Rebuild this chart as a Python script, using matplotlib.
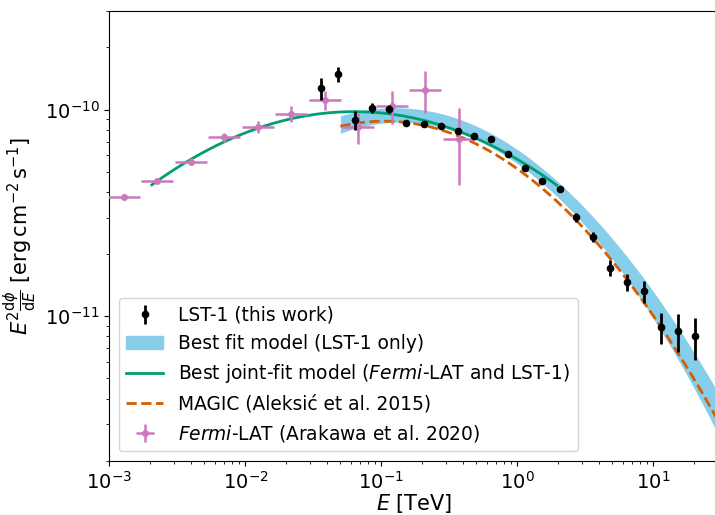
import numpy as np
import matplotlib.pyplot as plt
from matplotlib.patches import Patch
from matplotlib.lines import Line2D

TEV_TO_ERG = 1.602176634

# LST-1 flux points: energy [TeV], E^2 dN/dE [erg cm-2 s-1]
lst_energy = np.array([0.0363, 0.0484, 0.0646, 0.0861, 0.1148, 0.153, 0.2046, 0.273,
                       0.364, 0.485, 0.647, 0.863, 1.15, 1.535, 2.05, 2.73, 3.64,
                       4.85, 6.47, 8.63, 11.5, 15.3, 20.5])
lst_flux = np.array([1.268e-10, 1.48e-10, 8.94e-11, 1.02e-10, 1.008e-10, 8.6e-11,
                     8.55e-11, 8.33e-11, 7.88e-11, 7.48e-11, 7.18e-11, 6.09e-11,
                     5.23e-11, 4.51e-11, 4.12e-11, 3.01e-11, 2.42e-11, 1.72e-11,
                     1.47e-11, 1.32e-11, 8.85e-12, 8.45e-12, 8.0e-12])
lst_flux_err = np.array([1.55e-11, 1.2e-11, 9.5e-12, 6e-12, 4.5e-12, 2e-12,
                         1.5e-12, 1.5e-12, 1.5e-12, 1.5e-12, 1.5e-12, 1.3e-12,
                         1.3e-12, 1.2e-12, 1.2e-12, 1.4e-12, 1.4e-12, 1.5e-12,
                         1.4e-12, 1.65e-12, 1.5e-12, 1.75e-12, 1.85e-12])

# Fermi-LAT flux points (Arakawa et al. 2020)
fermi_energy = np.array([1.27e-3, 2.23e-3, 3.95e-3, 7.0e-3, 0.0124, 0.0218, 0.0384,
                         0.0679, 0.119, 0.211, 0.376])
fermi_flux = np.array([3.78e-11, 4.52e-11, 5.6e-11, 7.34e-11, 8.24e-11, 9.56e-11,
                       1.11e-10, 8.2e-11, 1.045e-10, 1.25e-10, 7.23e-11])
fermi_flux_err = np.array([6e-13, 1e-12, 2.2e-12, 3.3e-12, 5.7e-12, 8.3e-12,
                           1.18e-11, 1.4e-11, 1.9e-11, 2.85e-11, 2.9e-11])
fermi_half_bin = 0.118  # half bin width in decades

# log-parabola models: f0 [TeV-1 cm-2 s-1], E0 [TeV], alpha, beta (log10)
magic_pars = (3.23e-11, 1.0, 2.47, 0.24)
joint_pars = (3.59e-11, 1.0, 2.384, 0.16)
lst_pars = (3.2e-10, 0.4, 2.25, 0.26)
# band half width in decades: amplitude, index, curvature terms
lst_band_sig = (0.033, 0.0195, 0.025)


def sed_logpar(e, f0, e0, alpha, beta):
    x = np.log10(e / e0)
    return TEV_TO_ERG * e**2 * f0 * (e / e0) ** (-alpha - beta * x)


fig = plt.figure(figsize=(7.15, 5.15), dpi=100)
ax = fig.add_axes([0.1531, 0.1054, 0.851, 0.8732])

# LST-1 only band
e_band = np.logspace(np.log10(0.05), np.log10(30), 200)
v = np.log10(e_band / lst_pars[1])
s0, s1, s2 = lst_band_sig
sig = np.sqrt(s0**2 + (s1 * v)**2 + (s2 * v**2)**2)
center = sed_logpar(e_band, *lst_pars)
ax.fill_between(e_band, center * 10**(-sig), center * 10**sig, color='skyblue', lw=0, zorder=1)

# joint fit
e_joint = np.logspace(np.log10(2.05e-3), np.log10(1.95), 200)
ax.plot(e_joint, sed_logpar(e_joint, *joint_pars), c='#029E73', lw=2, zorder=2)

# MAGIC
e_magic = np.logspace(np.log10(0.05), np.log10(30), 200)
ax.plot(e_magic, sed_logpar(e_magic, *magic_pars), c='#D55E00', lw=2, ls='--', zorder=3)

xlo = fermi_energy * (1 - 10**(-fermi_half_bin))
xhi = fermi_energy * (10**fermi_half_bin - 1)
fermi = ax.errorbar(fermi_energy, fermi_flux, xerr=[xlo, xhi], yerr=fermi_flux_err,
                    fmt='o', ms=4, c='#CC78BC', elinewidth=1.8, zorder=4)
lst = ax.errorbar(lst_energy, lst_flux, yerr=lst_flux_err, fmt='o', ms=4.5, c='k',
                  elinewidth=2, zorder=5)

ax.set_xscale('log')
ax.set_yscale('log')
ax.set_xlim(1e-3, 30)
ax.set_ylim(2e-12, 3e-10)
ax.tick_params(labelsize=14)
ax.set_xlabel(r'$E$ [TeV]', fontsize=15, labelpad=0)
ax.set_ylabel(r'$E^2\frac{\mathrm{d}\phi}{\mathrm{d}E}$ [$\mathrm{erg\,cm^{-2}\,s^{-1}}$]', fontsize=15)

handles = [lst, Patch(color='skyblue'), Line2D([], [], c='#029E73', lw=2),
           Line2D([], [], c='#D55E00', lw=2, ls='--'), fermi]
labels = ['LST-1 (this work)', 'Best fit model (LST-1 only)',
          r'Best joint-fit model ($\it{Fermi}$-LAT and LST-1)',
          'MAGIC (Aleksić et al. 2015)', r'$\it{Fermi}$-LAT (Arakawa et al. 2020)']
ax.legend(handles, labels, loc='lower left', fontsize=13.4)

fig.savefig('out.png', dpi=100)
